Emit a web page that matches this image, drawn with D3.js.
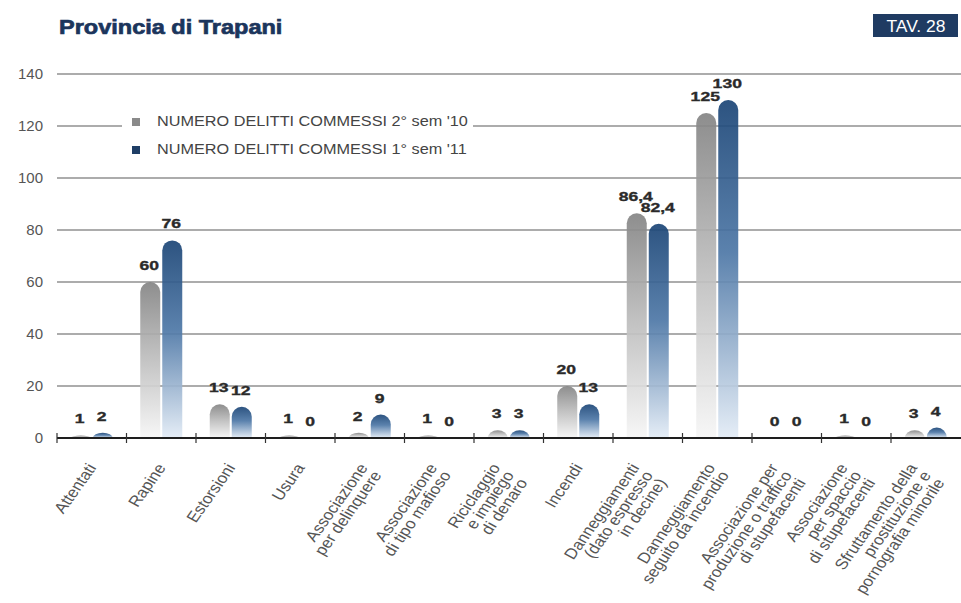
<!DOCTYPE html>
<html>
<head>
<meta charset="utf-8">
<script src="https://cdn.jsdelivr.net/npm/d3@7"></script>
<style>
  html, body { margin: 0; padding: 0; background: #fff; }
  svg { display: block; font-family: "Liberation Sans", Arial, Helvetica, sans-serif; }
</style>
</head>
<body>
<svg id="chart" width="961" height="603"></svg>
<script>
// ---------------- data ----------------
const categories = [
  ["Attentati"],
  ["Rapine"],
  ["Estorsioni"],
  ["Usura"],
  ["Associazione", "per delinquere"],
  ["Associazione", "di tipo mafioso"],
  ["Riciclaggio", "e impiego", "di denaro"],
  ["Incendi"],
  ["Danneggiamenti", "(dato espresso", "in decine)"],
  ["Danneggiamento", "seguito da incendio"],
  ["Associazione per", "produzione o traffico", "di stupefacenti"],
  ["Associazione", "per spaccio", "di stupefacenti"],
  ["Sfruttamento della", "prostituzione e", "pornografia minorile"]
];
const seriesNames = ["NUMERO DELITTI COMMESSI 2° sem '10", "NUMERO DELITTI COMMESSI 1° sem '11"];
const sem2_2010 = [1, 60, 13, 1, 2, 1, 3, 20, 86.4, 125, 0, 1, 3];
const sem1_2011 = [2, 76, 12, 0, 9, 0, 3, 13, 82.4, 130, 0, 0, 4];
const yTicks = [0, 20, 40, 60, 80, 100, 120, 140];
const titleText = "Provincia di Trapani";
const tableTag = "TAV. 28";

// ---------------- layout ----------------
const svg = d3.select("#chart");
const W = 961, H = 603;
const defs = svg.append("defs");

const gradSpecs = [
  { id: "gGray", stops: [["0%", "#848484"], ["45%", "#b9b9b9"], ["100%", "#f6f6f6"]] },
  { id: "gBlue", stops: [["0%", "#1b4576"], ["45%", "#4d77a6"], ["100%", "#e3ecf6"]] }
];
gradSpecs.forEach(g => {
  const lg = defs.append("linearGradient").attr("id", g.id)
    .attr("x1", 0).attr("y1", 0).attr("x2", 0).attr("y2", 1);
  g.stops.forEach(s => lg.append("stop").attr("offset", s[0]).attr("stop-color", s[1]));
});
const fills = ["url(#gGray)", "url(#gBlue)"];
const legendColors = ["#8a8a8a", "#1f3e66"];

const x0 = d3.scaleBand().domain(d3.range(categories.length)).range([57, 960.5]).padding(0);
const x1 = d3.scaleBand().domain([0, 1]).range([0, x0.bandwidth()])
  .paddingInner(2 / 22).paddingOuter(0.625);
const y = d3.scaleLinear().domain([0, 140]).range([438, 74]);

// title
svg.append("text")
  .attr("transform", "translate(59,34) scale(1.12,1)")
  .attr("font-size", 21).attr("font-weight", "bold")
  .attr("fill", "#1b355c").attr("stroke", "#1b355c").attr("stroke-width", 0.7)
  .text(titleText);

// TAV box
svg.append("rect").attr("x", 873).attr("y", 14).attr("width", 85).attr("height", 23)
  .attr("fill", "#1f3b62");
svg.append("text").attr("transform", "translate(916,31.5) scale(1.03,1)").attr("text-anchor", "middle")
  .attr("font-size", 17).attr("fill", "#ffffff").text(tableTag);

// gridlines
svg.append("g").selectAll("line").data(yTicks.filter(t => t > 0)).join("line")
  .attr("x1", 57).attr("x2", W)
  .attr("y1", d => y(d)).attr("y2", d => y(d))
  .attr("stroke", "#5a5a5a").attr("stroke-width", 1.1);

// y tick labels
svg.append("g").selectAll("text").data(yTicks).join("text")
  .attr("x", 43).attr("y", d => y(d)).attr("dy", "0.35em")
  .attr("text-anchor", "end").attr("font-size", 15).attr("fill", "#555")
  .text(d => d);

// legend (white box interrupts the gridline)
svg.append("rect").attr("x", 122).attr("y", 110).attr("width", 351).attr("height", 50).attr("fill", "#fff");
const legend = svg.append("g");
seriesNames.forEach((name, i) => {
  const ly = 118 + i * 28;
  legend.append("rect").attr("x", 132).attr("y", ly).attr("width", 8).attr("height", 8)
    .attr("fill", legendColors[i]);
  legend.append("text")
    .attr("transform", `translate(157,${ly + 8}) scale(1.16,1)`)
    .attr("font-size", 14).attr("fill", "#444").text(name);
});

// bars
function barPath(x, w, yTop, yBase) {
  const h = yBase - yTop;
  if (h <= 0) return null;
  const r = w / 2;
  if (h >= r) {
    return `M${x},${yBase}V${yTop + r}A${r},${r} 0 0 1 ${x + w},${yTop + r}V${yBase}Z`;
  }
  return `M${x},${yBase}A${r},${h} 0 0 1 ${x + w},${yBase}Z`;
}

const seriesValues = [sem2_2010, sem1_2011];
const barsG = svg.append("g");
const labelsG = svg.append("g");
const fmt = v => String(v).replace(".", ",");

seriesValues.forEach((vals, si) => {
  vals.forEach((v, ci) => {
    const bx = x0(ci) + x1(si);
    const bw = x1.bandwidth();
    const p = barPath(bx, bw, y(v), y(0));
    if (p) {
      barsG.append("path").attr("d", p).attr("fill", fills[si]).attr("fill-opacity", 0.92);
    }
    labelsG.append("text")
      .attr("transform", `translate(${bx + bw / 2 - 1},${y(v) - 12}) scale(1.35,1)`)
      .attr("text-anchor", "middle").attr("font-size", 13).attr("font-weight", "bold")
      .attr("fill", "#2a2a2a").attr("stroke", "#2a2a2a").attr("stroke-width", 0.35)
      .text(fmt(v));
  });
});

// x axis
const axisG = svg.append("g");
axisG.append("line").attr("x1", 57).attr("x2", W).attr("y1", y(0)).attr("y2", y(0))
  .attr("stroke", "#1e1e1e").attr("stroke-width", 2.2);
axisG.selectAll("line.tick").data(d3.range(categories.length)).join("line")
  .attr("class", "tick")
  .attr("x1", d => x0(d)).attr("x2", d => x0(d))
  .attr("y1", y(0) - 5).attr("y2", y(0) + 5)
  .attr("stroke", "#333").attr("stroke-width", 1.2);

// x labels (rotated, end-aligned multi-line, block shifted left per extra line)
const lineH = 14;
categories.forEach((lines, ci) => {
  const cx = x0(ci) + x0.bandwidth() / 2;
  const tx = cx - 6.5 * (lines.length - 1);
  const g = svg.append("text")
    .attr("transform", `translate(${tx},465) scale(1.15,1) rotate(-58)`)
    .attr("text-anchor", "end").attr("font-size", 15).attr("fill", "#555");
  lines.forEach((ln, li) => {
    g.append("tspan").attr("x", 0)
      .attr("y", li * lineH)
      .attr("dy", "0.35em").text(ln);
  });
});
</script>
</body>
</html>
